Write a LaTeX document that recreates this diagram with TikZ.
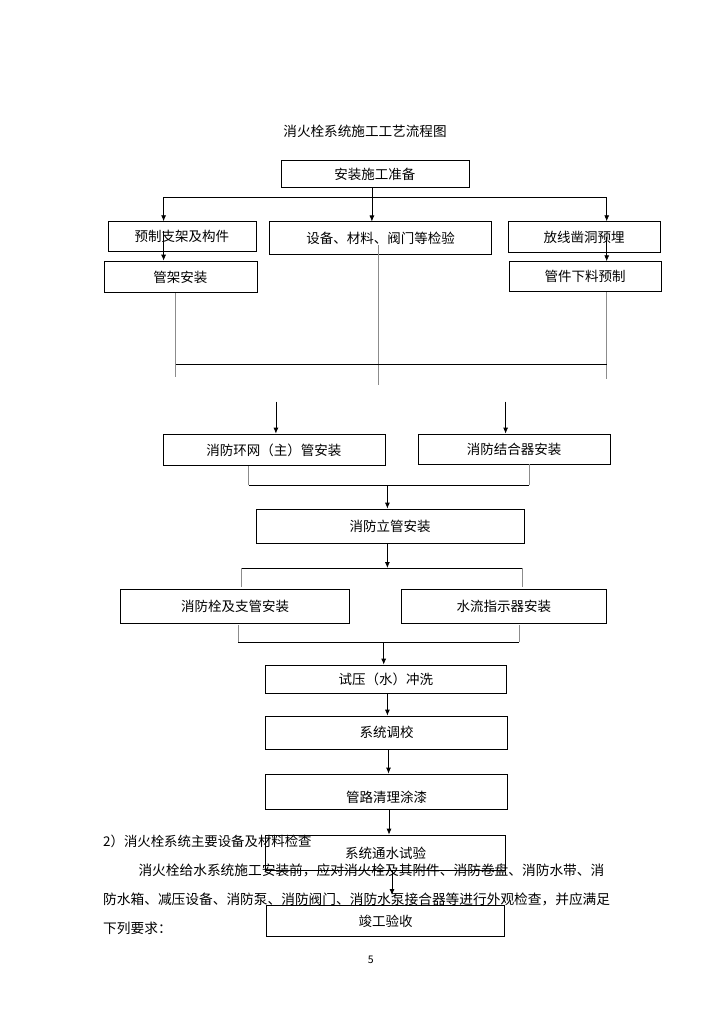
\documentclass[tikz,border=0pt]{standalone}
\usepackage{fontspec}
\setmainfont{Noto Sans CJK SC}
\usetikzlibrary{arrows.meta}
\tikzset{
  box/.style={draw, line width=0.8pt, inner sep=0pt, font=\fontsize{13.5}{15}\selectfont},
  link/.style={line width=0.8pt},
  glink/.style={line width=0.8pt, draw=black!45},
  flow/.style={line width=0.8pt, -{Latex[length=6pt,width=5pt]}},
  body/.style={anchor=west, inner sep=0pt, font=\fontsize{13.7}{15}\selectfont},
}
\begin{document}
\begin{tikzpicture}[x=1pt,y=-1pt]
\fill[white] (0,0) rectangle (723,1024);
\useasboundingbox (0,0) rectangle (723,1024);
\node[body, anchor=center, font=\fontsize{13.6}{15}\selectfont] (title) at (365,131.7) {消火栓系统施工工艺流程图};
% boxes
\node[box, minimum width=188pt, minimum height=27pt] (prep) at (374.9,174.4) {安装施工准备};
\node[box, minimum width=148pt, minimum height=30pt] (frame) at (181.9,236.7) {预制支架及构件};
\node[box, minimum width=222pt, minimum height=32pt] (check) at (380.6,237.9) {设备、材料、阀门等检验};
\node[box, minimum width=152pt, minimum height=31pt] (embed) at (584,237.2) {放线凿洞预埋};
\node[box, minimum width=153pt, minimum height=31.7pt] (hanger) at (180.4,276.9) {管架安装};
\node[box, minimum width=152pt, minimum height=30pt] (cut) at (585,276.7) {管件下料预制};
\node[box, minimum width=222pt, minimum height=31.7pt] (ring) at (273.9,449.9) {消防环网（主）管安装};
\node[box, minimum width=192pt, minimum height=30pt] (adapter) at (514.2,449) {消防结合器安装};
\node[box, minimum width=268pt, minimum height=34pt] (riser) at (390,526) {消防立管安装};
\node[box, minimum width=229pt, minimum height=34pt] (hydrant) at (235,606) {消防栓及支管安装};
\node[box, minimum width=204.5pt, minimum height=34pt] (flowsw) at (503.8,606) {水流指示器安装};
\node[box, minimum width=240.5pt, minimum height=28pt] (flush) at (385.8,679) {试压（水）冲洗};
\node[box, minimum width=242pt, minimum height=33pt] (tune) at (386.5,732.5) {系统调校};
\node[box, minimum width=242pt, minimum height=35pt, text height=22pt, text depth=1pt] (paint) at (386.5,791.5) {管路清理涂漆};
\node[box, minimum width=240pt, minimum height=35.7pt] (wtest) at (385.6,852.9) {系统通水试验};
\node[box, minimum width=238pt, minimum height=31pt] (accept) at (385.6,921.2) {竣工验收};
% top branch
\coordinate (busL) at (163.6,197.5);
\coordinate (busR) at (606.7,197.5);
\draw[link] (busL) -- (busR);
\draw[flow] ([xshift=-3pt]prep.south) -- ([xshift=-3pt]prep.south |- check.north);
\draw[flow] (busL) -- (busL |- frame.north);
\draw[flow] (busR) -- (busR |- embed.north);
\coordinate (frin) at (163.6,231);
\coordinate (emin) at (606.7,237);
\draw[flow] (frin) -- (frin |- hanger.north);
\draw[flow] (emin) -- (emin |- cut.north);
% gathering lines
\coordinate (gL) at (175.5,377);
\coordinate (gM) at (378,385);
\coordinate (gR) at (606.7,379);
\coordinate (chin) at (378,245);
\draw[glink] (gL |- hanger.south) -- (gL);
\draw[glink] (chin) -- (gM);
\draw[glink] (gR |- cut.south) -- (gR);
\draw[link] (175.5,364.7) -- (606.7,364.7);
\coordinate (inL) at (275.9,401.7);
\coordinate (inR) at (505.6,401.7);
\draw[flow] (inL) -- (inL |- ring.north);
\draw[flow] (inR) -- (inR |- adapter.north);
% merge to riser
\coordinate (m1L) at (248.7,485);
\coordinate (m1R) at (529.4,485);
\coordinate (m1C) at (387.4,485);
\draw[glink] (m1L |- ring.south) -- (m1L);
\draw[glink] (m1R |- adapter.south) -- (m1R);
\draw[link] (m1L) -- (m1R);
\draw[flow] (m1C) -- (m1C |- riser.north);
% split from riser
\coordinate (s1L) at (241.7,568);
\coordinate (s1R) at (522.3,568);
\draw[flow] ([xshift=-2.6pt]riser.south) -- ([xshift=-2.6pt]riser.south |- s1L);
\draw[link] (s1L) -- (s1R);
\draw[glink] (s1L) -- (241.7,587);
\draw[glink] (s1R) -- (522.3,587);
% merge to flush
\coordinate (m2L) at (238,642);
\coordinate (m2R) at (519.4,642);
\coordinate (m2C) at (383.7,642);
\draw[glink] (238,625) -- (m2L);
\draw[glink] (519.4,625) -- (m2R);
\draw[link] (m2L) -- (m2R);
\draw[flow] (m2C) -- (m2C |- flush.north);
% chain
\draw[flow] ([xshift=1.6pt]flush.south) -- ([xshift=1.6pt]flush.south |- tune.north);
\draw[flow] ([xshift=2pt]tune.south) -- ([xshift=2pt]tune.south |- paint.north);
\draw[flow] ([xshift=2.5pt]paint.south) -- ([xshift=2.5pt]paint.south |- wtest.north);
\coordinate (kin) at (392,895);
\draw[flow] (wtest.south -| kin) -- (kin);
% body text
\node[body, font=\fontsize{13.4}{15}\selectfont] (sec) at (103,841.7) {2）消火栓系统主要设备及材料检查};
\node[body] (par1) at (138.3,870) {消火栓给水系统施工安装前，应对消火栓及其附件、消防卷盘、消防水带、消};
\node[body] (par2) at (103,899) {防水箱、减压设备、消防泵、消防阀门、消防水泵接合器等进行外观检查，并应满足};
\node[body] (par3) at (103,928) {下列要求：};
\node[body, anchor=center, font=\fontsize{10.5}{12}\selectfont] (pageno) at (370.7,960) {5};
\end{tikzpicture}
\end{document}
